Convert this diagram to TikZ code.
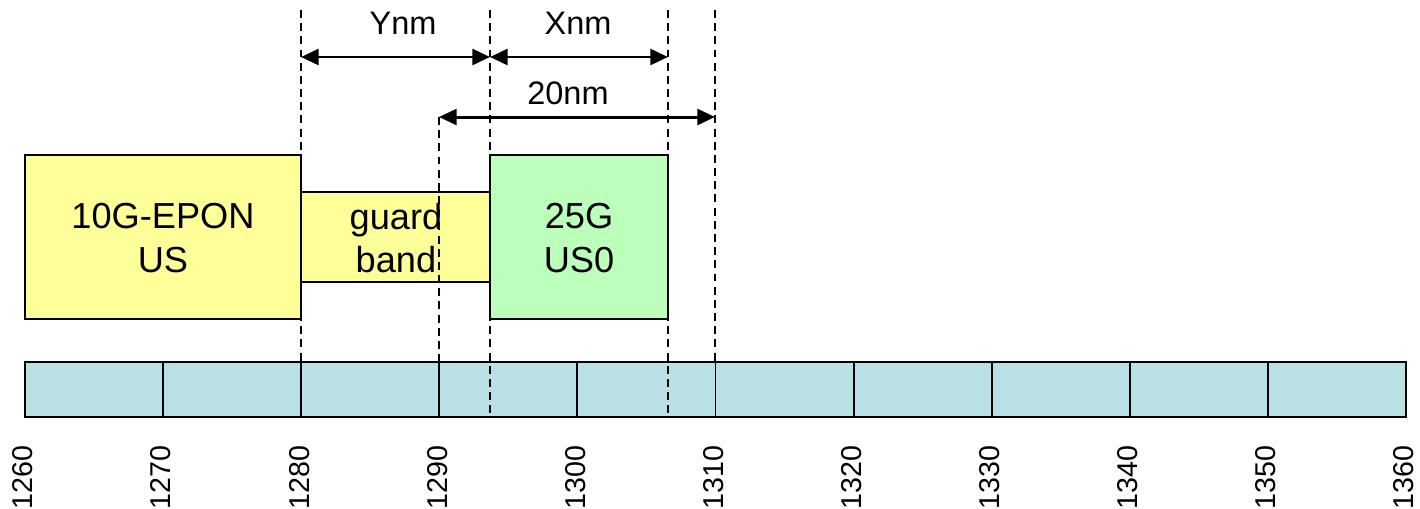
\documentclass[tikz,border=0pt]{standalone}
\usepackage{fontspec}
\setmainfont{Liberation Sans}
\usetikzlibrary{arrows.meta}
\definecolor{epony}{RGB}{255,255,153}
\definecolor{usgreen}{RGB}{187,255,187}
\definecolor{barblue}{RGB}{185,224,228}
\tikzset{
  boxline/.style={draw=black,line width=1.1pt},
  dimline/.style={dash pattern=on 4.5pt off 3pt,line width=0.8pt},
  dimarrow/.style={line width=1.7pt,{Triangle[length=10pt,width=9pt]}-{Triangle[length=10pt,width=9pt]}},
  boxtext/.style={align=center,font=\fontsize{20.6pt}{24.8pt}\selectfont,inner sep=0pt},
  toptext/.style={font=\fontsize{18.5pt}{22pt}\selectfont,inner sep=0pt,anchor=base},
  axtext/.style={font=\fontsize{16.3pt}{19pt}\selectfont,inner sep=0pt,rotate=90,anchor=east}
}
\begin{document}
\begin{tikzpicture}[x=0.02cm,y=-0.02cm]
\useasboundingbox (0,0) rectangle (1420,508);
% boxes
\draw[boxline,fill=epony] (25,155) rectangle (301,319);
\draw[boxline,fill=epony] (301,192) rectangle (490,282);
\draw[boxline,fill=usgreen] (490,155) rectangle (668,319);
\node[boxtext] (epon) at (163,238) {10G-EPON\\US};
\node[boxtext] (guard) at (396,238) {guard\\band};
\node[boxtext] (us0) at (579,238) {25G\\US0};
% axis bar
\draw[boxline,fill=barblue] (25,362) rectangle (1406,417);
\foreach \i in {1,...,9} {
  \draw[boxline] ({25+\i*138.1},362) -- ({25+\i*138.1},417);
}
\foreach \i/\lab in {0/1260,1/1270,2/1280,3/1290,4/1300,5/1310,6/1320,7/1330,8/1340,9/1350,10/1360} {
  \node[axtext] (ax\i) at ({23+\i*138.1},445) {\lab};
}
% dashed guide lines
\coordinate (g1t) at (301,10);  \coordinate (g1b) at (301,362);
\coordinate (g2t) at (490,10);  \coordinate (g2b) at (490,417);
\coordinate (g3t) at (668,10);  \coordinate (g3b) at (668,417);
\coordinate (g4t) at (715,10);  \coordinate (g4b) at (715,362);
\coordinate (g5t) at (439,117); \coordinate (g5b) at (439,362);
\draw[dimline] (g1t) -- (g1b);
\draw[dimline] (g2t) -- (g2b);
\draw[dimline] (g3t) -- (g3b);
\draw[dimline] (g4t) -- (g4b);
\draw[dimline] (g5t) -- (g5b);
% dimension arrows
\coordinate (ya) at (301,57); \coordinate (yb) at (490,57);
\coordinate (xb) at (668,57);
\coordinate (za) at (439,117); \coordinate (zb) at (715,117);
\draw[dimarrow] (ya) -- (yb);
\draw[dimarrow] (yb) -- (xb);
\draw[dimarrow] (za) -- (zb);
\node[toptext] (ynm) at (403,34) {Ynm};
\node[toptext] (xnm) at (578,34) {Xnm};
\node[toptext] (twenty) at (568,104) {20nm};
\end{tikzpicture}
\end{document}
